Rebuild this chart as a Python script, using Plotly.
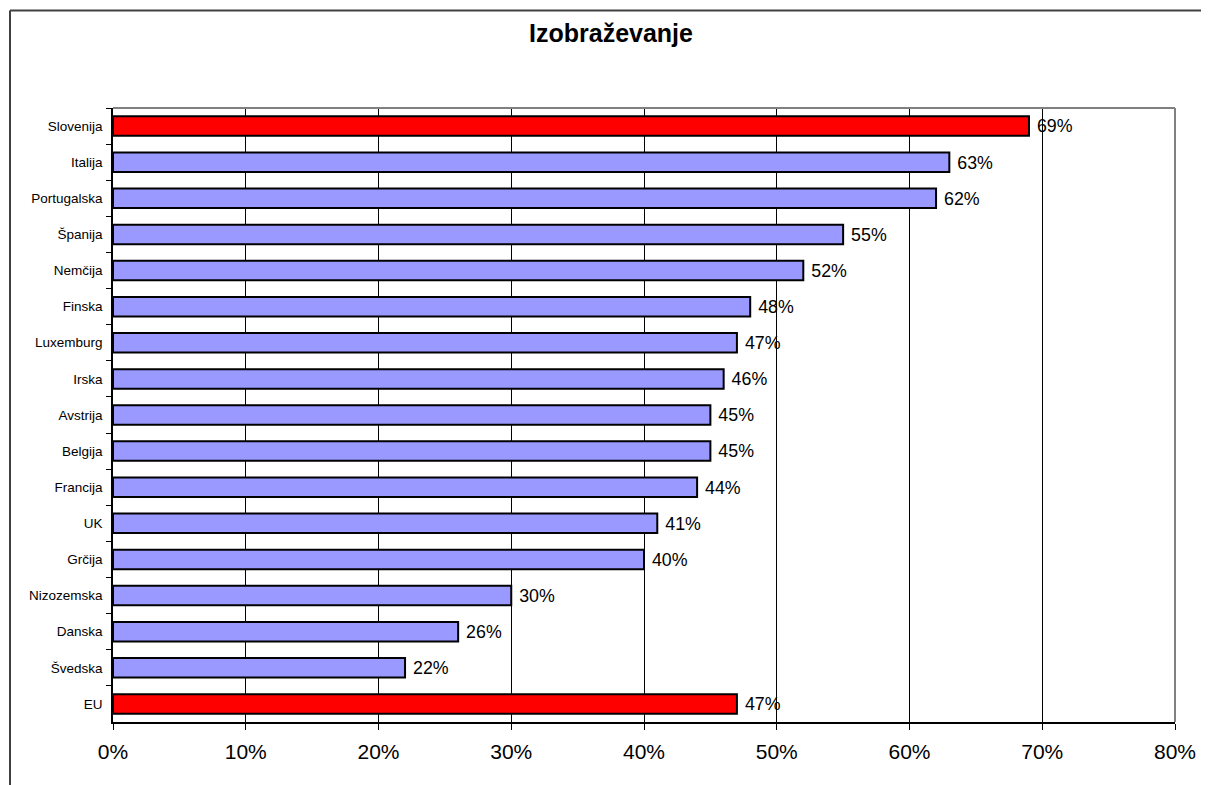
import plotly.graph_objects as go

categories = ["Slovenija", "Italija", "Portugalska", "Španija", "Nemčija", "Finska",
              "Luxemburg", "Irska", "Avstrija", "Belgija", "Francija", "UK", "Grčija",
              "Nizozemska", "Danska", "Švedska", "EU"]
values = [0.69, 0.63, 0.62, 0.55, 0.52, 0.48, 0.47, 0.46, 0.45, 0.45, 0.44, 0.41,
          0.40, 0.30, 0.26, 0.22, 0.47]
highlight = ["Slovenija", "EU"]
x_ticks = [0, 0.1, 0.2, 0.3, 0.4, 0.5, 0.6, 0.7, 0.8]
title_text = "Izobraževanje"

colors = ["#FF0000" if c in highlight else "#9999FF" for c in categories]

# page body has an 8px margin; work in figure coordinates = screen - 8
OFF = 8
W, H = 1209 - OFF, 785 - OFF
L, T = 113 - OFF, 108 - OFF
R = W - (1175 - OFF)
B = H - (722 - OFF)
pw, ph = W - L - R, H - T - B

fig = go.Figure(go.Bar(
    x=values, y=categories, orientation="h",
    marker=dict(color=colors, line=dict(color="black", width=2)),
    text=[" " + f"{round(v*100)}%" for v in values],
    textposition="outside",
    textfont=dict(family="Arial", size=21, color="black"),
    cliponaxis=False,
    hoverinfo="skip",
))

fx = lambda px: (px - OFF - L) / pw
fy = lambda py: 1 - (py - OFF - T) / ph

fig.update_layout(
    width=W, height=H,
    margin=dict(l=L, r=R, t=T, b=B, autoexpand=False),
    paper_bgcolor="white", plot_bgcolor="white",
    showlegend=False,
    bargap=0.46,
    font=dict(family="Arial", color="black"),
    title=dict(text="<b>" + title_text + "</b>", x=(611 - OFF) / W, xanchor="center",
               y=1 - (33 - OFF) / H, yanchor="middle", xref="container", yref="container",
               font=dict(family="Arial", size=25, color="black")),
    xaxis=dict(range=[0, 0.8], tickvals=x_ticks, tickformat=".0%",
               showgrid=True, gridcolor="black", gridwidth=1,
               zeroline=False, showline=True, linecolor="black", linewidth=1.5,
               ticks="outside", ticklen=6, tickcolor="black", tickwidth=1,
               ticklabelstandoff=4,
               tickfont=dict(family="Arial", size=21, color="black")),
    yaxis=dict(autorange="reversed", showgrid=False, zeroline=False,
               showline=True, linecolor="black", linewidth=1.5,
               ticks="outside", ticklen=5, tickcolor="black", tickwidth=1,
               tickson="boundaries", ticklabelstandoff=6,
               tickfont=dict(family="Arial", size=13.5, color="black")),
    shapes=[
        dict(type="line", xref="paper", yref="paper", x0=0, x1=1, y0=1, y1=1,
             line=dict(color="#808080", width=2), layer="above"),
        dict(type="line", xref="paper", yref="paper", x0=1, x1=1, y0=0, y1=1,
             line=dict(color="#808080", width=2), layer="above"),
        dict(type="line", xref="paper", yref="paper", x0=fx(10), x1=fx(1215),
             y0=fy(10.5), y1=fy(10.5), line=dict(color="#404040", width=2)),
        dict(type="line", xref="paper", yref="paper", x0=fx(10), x1=fx(10),
             y0=fy(10.5), y1=fy(800), line=dict(color="#404040", width=2)),
    ],
)

fig.write_html("out.html")
